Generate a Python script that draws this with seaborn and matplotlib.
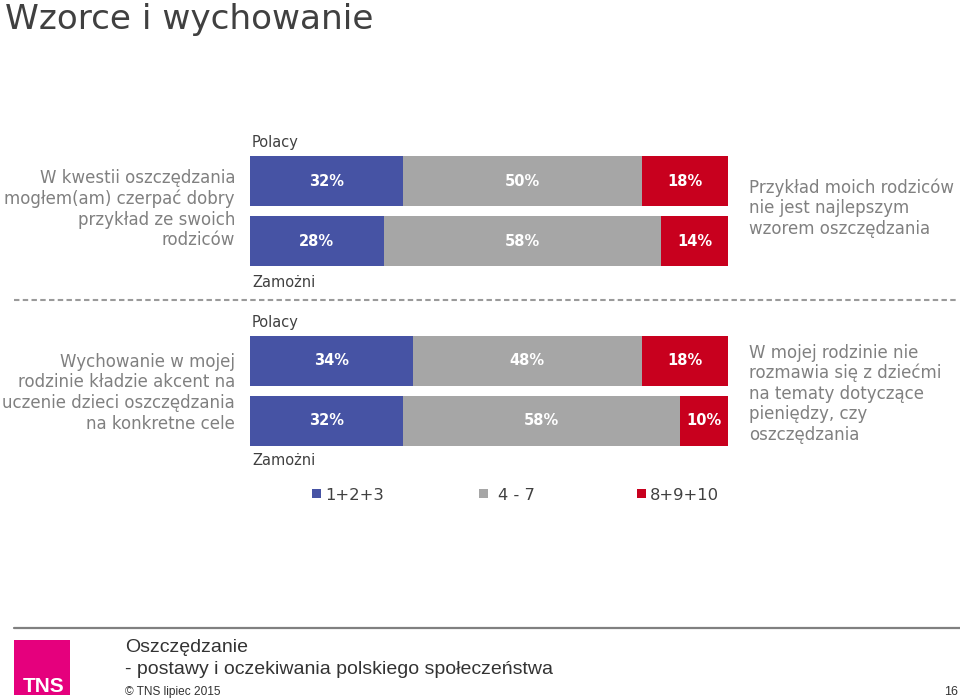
import matplotlib
matplotlib.use("Agg")
import matplotlib.pyplot as plt
from matplotlib.patches import Rectangle
from matplotlib.lines import Line2D
import seaborn as sns
import pandas as pd

# ---------------- data ----------------
title = "Wzorce i wychowanie"
groups = ["Polacy", "Zamożni"]
legend_labels = ["1+2+3", "4 - 7", "8+9+10"]

q1_low = [32, 28]
q1_mid = [50, 58]
q1_high = [18, 14]

q2_low = [34, 32]
q2_mid = [48, 58]
q2_high = [18, 10]

q1_left = ["W kwestii oszczędzania", "mogłem(am) czerpać dobry",
           "przykład ze swoich", "rodziców"]
q1_right = ["Przykład moich rodziców", "nie jest najlepszym",
            "wzorem oszczędzania"]
q2_left = ["Wychowanie w mojej", "rodzinie kładzie akcent na",
           "uczenie dzieci oszczędzania", "na konkretne cele"]
q2_right = ["W mojej rodzinie nie", "rozmawia się z dziećmi",
            "na tematy dotyczące", "pieniędzy, czy", "oszczędzania"]

footer_title = "Oszczędzanie"
footer_sub = "- postawy i oczekiwania polskiego społeczeństwa"
footer_copy = "© TNS lipiec 2015"
page_no = "16"

colors = ["#4653A4", "#A6A6A6", "#C8001E"]

# ---------------- style ----------------
sns.set_theme(style="white")
plt.rcParams["font.family"] = ["DejaVu Sans"]

W, H = 960, 699
fig = plt.figure(figsize=(W / 100, H / 100), dpi=100)
fig.patch.set_facecolor("white")


def fx(x):
    return x / W


def fy(y):
    return 1 - y / H


TXT_DARK = "#404040"
TXT_GRAY = "#808080"

# title
fig.text(fx(5), fy(29), title, fontsize=24.7, color=TXT_DARK, va="baseline", ha="left")


def draw_group(rect, low, mid, high):
    ax = fig.add_axes(rect)
    df = pd.DataFrame({"grupa": groups, "low": low, "mid": mid, "high": high})
    df["c_mid"] = df["low"] + df["mid"]
    df["c_high"] = df["c_mid"] + df["high"]
    for col, color in [("c_high", colors[2]), ("c_mid", colors[1]), ("low", colors[0])]:
        sns.barplot(data=df, x=col, y="grupa", orient="h", color=color,
                    saturation=1, width=50 / 60, ax=ax, linewidth=0, errorbar=None)
    ax.set_xlim(0, 100)
    ax.set_ylim(1.5, -0.5)
    ax.axis("off")
    for i in range(len(groups)):
        starts = [0, df["low"][i], df["c_mid"][i]]
        vals = [df["low"][i], df["mid"][i], df["high"][i]]
        for s, v in zip(starts, vals):
            ax.text(s + v / 2, i, f"{v}%", ha="center", va="center",
                    color="white", fontsize=10.5, fontweight="bold")
    return ax


bar_left = 250
bar_w = 478
draw_group([fx(bar_left), fy(271), bar_w / W, 120 / H], q1_low, q1_mid, q1_high)
draw_group([fx(bar_left), fy(451), bar_w / W, 120 / H], q2_low, q2_mid, q2_high)

# group labels
for y, lab in [(147, groups[0]), (287, groups[1]), (327, groups[0]), (465, groups[1])]:
    fig.text(fx(252), fy(y), lab, fontsize=10.5, color=TXT_DARK, va="baseline", ha="left")

# side texts
def side_text(lines, x, y0, step, ha):
    for k, line in enumerate(lines):
        fig.text(fx(x), fy(y0 + k * step), line, fontsize=12, color=TXT_GRAY,
                 va="baseline", ha=ha)


side_text(q1_left, 235, 183, 20.8, "right")
side_text(q2_left, 235, 366.7, 20.8, "right")
side_text(q1_right, 749, 192.7, 20.6, "left")
side_text(q2_right, 749, 357.7, 20.6, "left")

# dashed separator
fig.add_artist(Line2D([fx(14), fx(958)], [fy(300), fy(300)], color="#9A9A9A",
                      lw=1.5, linestyle=(0, (2.6, 1.6))))

# legend
leg_items = [(312, 325), (479, 498), (637, 650)]
for (sx, tx), lab, c in zip(leg_items, legend_labels, colors):
    fig.add_artist(Rectangle((fx(sx), fy(498)), 9 / W, 9 / H, color=c, lw=0))
    fig.text(fx(tx), fy(500), lab, fontsize=11.8, color=TXT_DARK, va="baseline", ha="left")

# footer
fig.add_artist(Line2D([fx(14), fx(960)], [fy(627.5), fy(627.5)], color="#808080", lw=1.6))
fig.add_artist(Rectangle((fx(14), fy(695)), 56 / W, 55 / H, color="#E5007D", lw=0))
fig.text(fx(44), fy(692), "TNS", fontsize=15, fontweight="bold", color="white",
         family=["Liberation Sans Narrow", "Liberation Sans"], ha="center", va="baseline")
fig.text(fx(125), fy(652.5), footer_title, fontsize=14, color="#333333",
         family=["Liberation Sans"], va="baseline", ha="left")
fig.text(fx(125), fy(674), footer_sub, fontsize=14, color="#333333",
         family=["Liberation Sans"], va="baseline", ha="left")
fig.text(fx(125), fy(695), footer_copy, fontsize=8.6, color="#333333",
         family=["Liberation Sans"], va="baseline", ha="left")
fig.text(fx(958), fy(695), page_no, fontsize=9, color="#333333",
         family=["Liberation Sans"], va="baseline", ha="right")

fig.savefig("out.png", dpi=100, facecolor="white")
